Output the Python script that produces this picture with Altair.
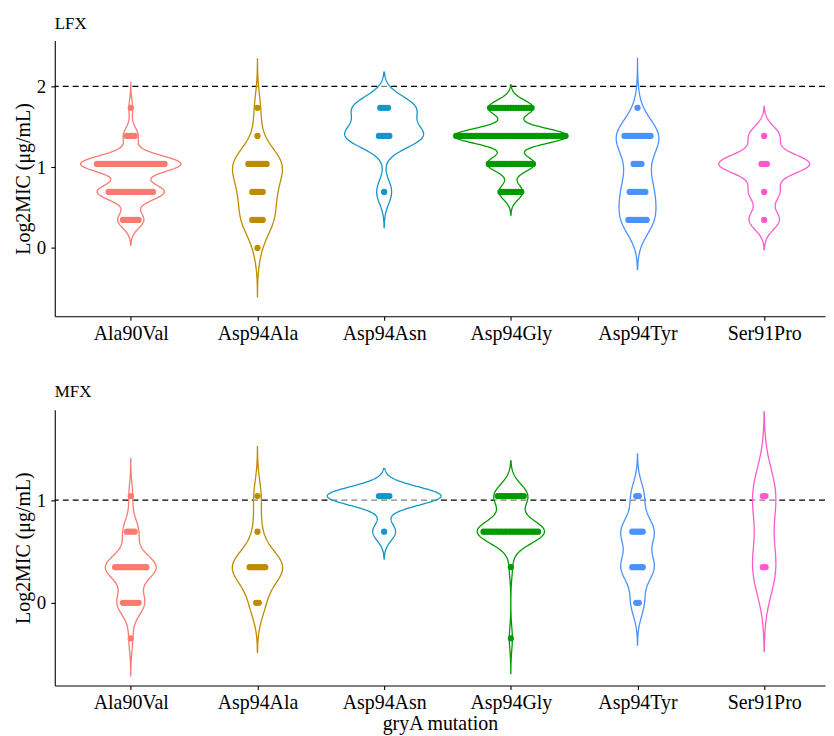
import altair as alt
import pandas as pd

MUTATIONS = ["Ala90Val", "Asp94Ala", "Asp94Asn", "Asp94Gly", "Asp94Tyr", "Ser91Pro"]
COLORS = ["#FA7A70", "#BE8C00", "#1496C6", "#009B00", "#4C92FF", "#FF5ACD"]
LEVELS = [-0.347, 0.0, 0.347, 0.693, 1.040, 1.386, 1.733]

# number of isolates at each level (same order as LEVELS)
LFX_COUNTS = {
    "Ala90Val": [0, 0, 7, 18, 27, 4, 1],
    "Asp94Ala": [0, 1, 5, 5, 8, 1, 1],
    "Asp94Asn": [0, 0, 0, 1, 0, 5, 4],
    "Asp94Gly": [0, 0, 0, 9, 18, 43, 17],
    "Asp94Tyr": [0, 0, 8, 7, 4, 11, 1],
    "Ser91Pro": [0, 0, 1, 1, 3, 1, 0],
}
MFX_COUNTS = {
    "Ala90Val": [1, 7, 13, 4, 1, 0, 0],
    "Asp94Ala": [0, 2, 7, 1, 1, 0, 0],
    "Asp94Asn": [0, 0, 0, 1, 5, 0, 0],
    "Asp94Gly": [1, 0, 1, 22, 11, 0, 0],
    "Asp94Tyr": [0, 2, 5, 5, 2, 0, 0],
    "Ser91Pro": [0, 0, 2, 0, 2, 0, 0],
}
BREAKPOINTS = {"LFX": 2, "MFX": 1}
Y_DOMAINS = {"LFX": [-0.845, 2.565], "MFX": [-0.805, 1.88]}
Y_TICKS = {"LFX": [0, 1, 2], "MFX": [0, 1]}

X_DOMAIN = [0.4, 6.48]
DOT_STEP = 0.0205
FONT = "Liberation Serif"

rows = []
for panel, counts in [("LFX", LFX_COUNTS), ("MFX", MFX_COUNTS)]:
    for i, m in enumerate(MUTATIONS):
        for lv, c in zip(LEVELS, counts[m]):
            rows += [{"panel": panel, "mutation": m, "idx": i + 1, "value": lv}] * c
df = pd.DataFrame(rows)

color_scale = alt.Scale(domain=MUTATIONS, range=COLORS)
label_expr = "[" + ",".join("'%s'" % m for m in MUTATIONS) + "][datum.value - 1]"


def panel_chart(panel, xtitle):
    yscale = alt.Scale(domain=Y_DOMAINS[panel], nice=False, zero=False)
    xscale = alt.Scale(domain=X_DOMAIN, nice=False, zero=False)
    yaxis = alt.Axis(values=Y_TICKS[panel], labelFontSize=19, titleFontSize=20,
                     tickSize=4, labelPadding=5, titlePadding=3)
    xkw = dict(values=list(range(1, len(MUTATIONS) + 1)), labelExpr=label_expr,
               labelFontSize=20, titleFontSize=20, tickSize=4, labelPadding=3,
               labelFlush=False, labelOverlap=False, titlePadding=1)
    if xtitle:
        xaxis = alt.Axis(title=xtitle, **xkw)
    else:
        xaxis = alt.Axis(title=None, **xkw)
    ytitle = "Log2MIC (μg/mL)"

    base = alt.Chart(df).transform_filter(alt.datum.panel == panel)

    rule = alt.Chart(pd.DataFrame({"bp": [BREAKPOINTS[panel]]})).mark_rule(
        color="black", strokeDash=[6, 4], strokeWidth=1.2
    ).encode(y=alt.Y("bp:Q", scale=yscale, axis=yaxis, title=ytitle))

    violin = base.transform_joinaggregate(
        n="count()", sd="stdev(value)", q1="q1(value)", q3="q3(value)",
        vmin="min(value)", vmax="max(value)", groupby=["mutation"]
    ).transform_calculate(
        lo="min(datum.sd, (datum.q3 - datum.q1) / 1.34)"
    ).transform_calculate(
        bw="0.9 * (datum.lo > 0 ? datum.lo : datum.sd) * pow(datum.n, -0.2)",
        grid="sequence(0, 201)"
    ).transform_flatten(["grid"]).transform_calculate(
        yv="datum.vmin - 3 * datum.bw + datum.grid * (datum.vmax - datum.vmin + 6 * datum.bw) / 200"
    ).transform_calculate(
        k="exp(-0.5 * pow((datum.yv - datum.value) / datum.bw, 2)) / (datum.bw * sqrt(2 * PI) * datum.n)"
    ).transform_aggregate(
        dens="sum(k)", groupby=["mutation", "idx", "grid", "yv"]
    ).transform_joinaggregate(
        maxd="max(dens)"
    ).transform_calculate(
        xlo="datum.idx - 0.45 * datum.dens / datum.maxd",
        xhi="datum.idx + 0.45 * datum.dens / datum.maxd"
    ).mark_area(
        orient="horizontal", fill="white", fillOpacity=0.5, strokeWidth=1.3
    ).encode(
        y=alt.Y("yv:Q", scale=yscale, axis=yaxis, title=ytitle),
        x=alt.X("xlo:Q", scale=xscale, axis=xaxis, title=xtitle),
        x2="xhi:Q",
        stroke=alt.Stroke("mutation:N", scale=color_scale, legend=None),
        detail="mutation:N",
    )

    dots = base.transform_window(
        rank="row_number()", groupby=["mutation", "value"]
    ).transform_joinaggregate(
        cnt="count()", groupby=["mutation", "value"]
    ).transform_calculate(
        xd="datum.idx + (datum.rank - 1 - (datum.cnt - 1) / 2) * %f" % DOT_STEP
    ).mark_circle(size=40, opacity=1).encode(
        y=alt.Y("value:Q", scale=yscale, axis=yaxis, title=ytitle),
        x=alt.X("xd:Q", scale=xscale, axis=xaxis, title=xtitle),
        color=alt.Color("mutation:N", scale=color_scale, legend=None),
    )

    return alt.layer(rule, violin, dots).properties(
        width=774, height=277,
        title=alt.TitleParams(panel, anchor="start", frame="group", fontSize=17,
                              font=FONT, fontWeight="normal", color="black", offset=8),
    )


chart = alt.vconcat(
    panel_chart("LFX", None), panel_chart("MFX", "gryA mutation"), spacing=40
).properties(
    padding={"left": 5, "top": 5, "right": 0, "bottom": 0}
).configure_axis(
    grid=False, domainColor="black", tickColor="black", labelColor="black",
    titleColor="black", domainWidth=1.1, tickWidth=1.1,
    labelFont=FONT, titleFont=FONT, titleFontWeight="normal",
).configure_view(stroke=None)

chart.save("out.html", embed_options={"renderer": "svg", "actions": False})
